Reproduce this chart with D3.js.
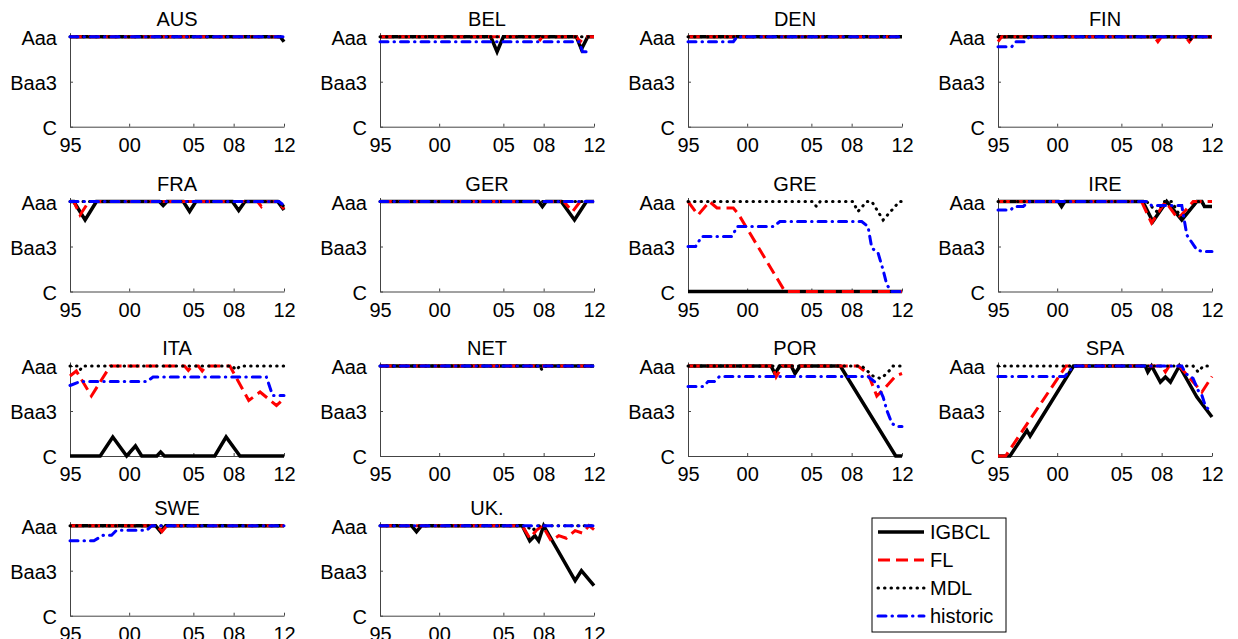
<!DOCTYPE html>
<meta charset="utf-8">
<style>
body { margin: 0; background: #fff; }
text {
  font-family: "Liberation Sans", Arial, sans-serif;
  font-size: 20px;
  fill: #000;
}
.axis line, .axis path { stroke: #444; stroke-width: 1px; fill: none; }
</style>
<script src="https://d3js.org/d3.v7.min.js"></script>
<div id="chart"></div>
<script>

// panel names, in reading order
var countries = ["AUS", "BEL", "DEN", "FIN", "FRA", "GER", "GRE", "IRE", "ITA", "NET", "POR", "SPA", "SWE", "UK."];

// rating notches: Aaa = 1 ... Baa3 = 10 ... C = 19
var yTicks = [{v: 1, label: "Aaa"}, {v: 10, label: "Baa3"}, {v: 19, label: "C"}];
var xTicks = [{v: 1995, label: "95"}, {v: 1999.7, label: "00"}, {v: 2004.8, label: "05"}, {v: 2008, label: "08"}, {v: 2012, label: "12"}];

// series, [year, notch] points
var igbcl = {
  "AUS": [[1995,1],[2011.7,1],[2012,2]],
  "BEL": [[1995,1],[2003.8,1],[2004.3,4],[2004.8,1],[2010.6,1],[2011,3.5],[2011.5,1],[2012,1]],
  "DEN": [[1995,1],[2012,1]],
  "FIN": [[1995,1],[2012,1]],
  "FRA": [[1995,1],[1995.3,1],[1996.2,4.7],[1997.1,1],[2002.1,1],[2002.4,1.8],[2002.7,1],[2004,1],[2004.5,3],[2005,1],[2007.9,1],[2008.4,2.8],[2008.9,1],[2011.5,1],[2012,2.7]],
  "GER": [[1995,1],[2007.6,1],[2007.9,2],[2008.2,1],[2009.4,1],[2010.45,4.7],[2011.4,1],[2012,1]],
  "GRE": [[1995,19],[2012,19]],
  "IRE": [[1995,1],[1999.8,1],[2000.05,2],[2000.3,1],[2006.5,1],[2007.3,5],[2008.4,1],[2009.6,4.7],[2010.8,1],[2011.2,1],[2011.4,2],[2012,2]],
  "ITA": [[1995,19],[1997.4,19],[1998.4,15.2],[1999.5,19],[2000.2,17],[2000.7,19],[2001.9,19],[2002.2,18.2],[2002.5,19],[2006.5,19],[2007.4,15.2],[2008.5,19],[2012,19]],
  "NET": [[1995,1],[2012,1]],
  "POR": [[1995,1],[2001.6,1],[2001.9,2.5],[2002.3,1],[2003.2,1],[2003.5,2.5],[2003.9,1],[2007.1,1],[2011.5,19],[2012,19]],
  "SPA": [[1995,19],[1995.95,19],[1997.3,13.9],[1997.55,15],[2001,1],[2006.7,1],[2006.9,2.2],[2007.2,1],[2007.9,4.2],[2008.3,3.2],[2008.7,4.2],[2009.4,1],[2010.8,7.2],[2012,11.2]],
  "SWE": [[1995,1],[2001.8,1],[2002.2,2.2],[2002.6,1],[2012,1]],
  "UK.": [[1995,1],[1997.5,1],[1997.9,2.2],[1998.3,1],[2006.3,1],[2006.9,4],[2007.3,3],[2007.6,4],[2008,1],[2010.5,12],[2011,10],[2012,13]]
};

var fl = {
  "AUS": [[1995,1],[2012,1]],
  "BEL": [[1995,1],[2007.3,1],[2007.6,2],[2007.9,1],[2010.6,1],[2010.9,2],[2011.2,1],[2012,1]],
  "DEN": [[1995,1],[2012,1]],
  "FIN": [[1995,2],[1995.3,1],[2007.4,1],[2007.7,2],[2008,1],[2009.9,1],[2010.2,2],[2010.5,1],[2012,1]],
  "FRA": [[1995,1],[1995.3,1],[1995.8,3.7],[1996.5,1],[2009.9,1],[2010.2,2],[2010.5,1],[2011.5,1],[2012,2.5]],
  "GER": [[1995,1],[2009.6,1],[2010.3,3],[2010.9,1],[2012,1]],
  "GRE": [[1995,1],[1995.8,3.7],[1996.7,1],[1997.3,2.3],[1998.6,2.3],[1999,3.5],[2002.7,19],[2012,19]],
  "IRE": [[1995,1],[2006.4,1],[2007.2,5.3],[2008.3,1],[2009.3,4.5],[2010.5,1],[2012,1]],
  "ITA": [[1995,3],[1995.5,2],[1996.7,7],[1998.2,1],[2004.1,1],[2004.4,1.9],[2004.7,1],[2005.2,1],[2005.5,2],[2005.8,1],[2007.7,1],[2009.2,7.9],[2010.1,6.2],[2011.4,8.9],[2012,7.5]],
  "NET": [[1995,1],[2012,1]],
  "POR": [[1995,1],[2001.7,1],[2002,3.2],[2002.5,1],[2008.5,1],[2009.3,2.5],[2010,7],[2010.6,5.5],[2011.5,3],[2012,2.5]],
  "SPA": [[1995,19],[1995.6,19],[2000.4,1],[2008,1],[2008.3,2.2],[2008.6,1],[2009.4,1],[2011.2,6.2],[2012,3.1]],
  "SWE": [[1995,1],[2001.9,1],[2002.3,2.2],[2002.7,1],[2012,1]],
  "UK.": [[1995,1],[2006.3,1],[2006.9,3.5],[2007.4,2],[2007.9,1],[2008.6,4],[2009.2,3],[2009.8,3.5],[2010.5,2],[2011.1,2.5],[2011.6,1],[2012,1.8]]
};

var mdl = {
  "AUS": [[1995,1],[2012,1]],
  "BEL": [[1995,1],[2012,1]],
  "DEN": [[1995,1],[2012,1]],
  "FIN": [[1995,1],[2009.9,1],[2010.2,1.8],[2010.5,1],[2012,1]],
  "FRA": [[1995,1],[2011.6,1],[2012,2]],
  "GER": [[1995,1],[2012,1]],
  "GRE": [[1995,1],[2004.9,1],[2005.2,2],[2005.5,1],[2008.1,1],[2008.5,3],[2009.2,1],[2009.6,1],[2010.5,4.7],[2011.8,1],[2012,1]],
  "IRE": [[1995,1],[2006.8,1],[2007.6,3],[2008.2,1],[2008.8,1],[2009.6,4.5],[2010.8,1],[2011.2,1],[2011.4,2],[2012,2]],
  "ITA": [[1995,1],[1995.6,1],[1995.8,1.8],[1996,1],[2007.9,1],[2008.2,1.8],[2008.5,1],[2012,1]],
  "NET": [[1995,1],[2007.6,1],[2007.9,1.8],[2008.2,1],[2012,1]],
  "POR": [[1995,1],[2008.8,1],[2009.7,3],[2010.3,3.5],[2010.8,2.5],[2011.3,1],[2012,1]],
  "SPA": [[1995,1],[2010.5,1],[2010.9,2.2],[2011.3,1],[2012,1]],
  "SWE": [[1995,1],[2012,1]],
  "UK.": [[1995,1],[2006.6,1],[2007.1,2],[2007.5,1],[2012,1]]
};

var historic = {
  "AUS": [[1995,1],[2012,1]],
  "BEL": [[1995,2],[2010.8,2],[2011.1,4],[2011.7,4]],
  "DEN": [[1995,2],[1998.6,2],[1998.9,1],[2012,1]],
  "FIN": [[1995,3],[1996.1,3],[1996.4,2],[1997.1,2],[1997.5,1],[2012,1]],
  "FRA": [[1995,1],[2011.6,1],[2012,1.8]],
  "GER": [[1995,1],[2012,1]],
  "GRE": [[1995,10],[1995.6,10],[1996.1,8],[1998.5,8],[1998.9,6],[2001.8,6],[2002.3,5],[2008.8,5],[2009.3,6],[2009.6,10.3],[2010.1,11.3],[2010.5,14.7],[2010.8,17.7],[2011.2,19],[2012,19]],
  "IRE": [[1995,2.7],[1996,2.7],[1996.3,2],[1997,2],[1997.5,1],[2006.8,1],[2007.2,1.8],[2009.6,1.8],[2010,7.7],[2010.8,10.7],[2011.3,11],[2012,11]],
  "ITA": [[1995,4.9],[1995.8,4.1],[2001.1,4.1],[2001.6,3.2],[2010.6,3.2],[2011.1,6.9],[2012,6.9]],
  "NET": [[1995,1],[2012,1]],
  "POR": [[1995,5.1],[1996.2,5.1],[1996.6,4.1],[1997.1,4.1],[1997.5,3.1],[2009.3,3.1],[2010,4.5],[2010.5,7.2],[2010.8,9.9],[2011.2,12.5],[2011.6,13.1],[2012,13.1]],
  "SPA": [[1995,3.1],[2000.3,3.1],[2001,1],[2009.6,1],[2009.9,2.5],[2010.5,3.5],[2010.9,5.9],[2011.2,6.9],[2011.5,9.2],[2011.9,9.9],[2012,10.2]],
  "SWE": [[1995,4],[1996.9,4],[1997.65,2.9],[1998.3,2.9],[1998.7,1.9],[2001.1,1.9],[2001.5,1],[2012,1]],
  "UK.": [[1995,1],[2012,1]]
};

var seriesNames = ["IGBCL", "FL", "MDL", "historic"];
var seriesData = [igbcl, fl, mdl, historic];

// styles for each series
var styles = [
  {color: "#000", width: 3.5, dash: null, cap: "butt"},
  {color: "#ff0000", width: 3, dash: "12,6", cap: "butt"},
  {color: "#000", width: 3, dash: "0.5,6", cap: "round"},
  {color: "#0000ff", width: 3, dash: "8,6,0.5,6", cap: "round"}
];

var width = 1238, height = 639;
var svg = d3.select("#chart").append("svg")
    .attr("width", width)
    .attr("height", height);

svg.append("rect")
    .attr("width", width)
    .attr("height", height)
    .attr("fill", "white");

// panel layout
var colLeft = [70, 380, 688, 998];
var rowBottom = [126.7, 291.5, 456, 615.7];
var panelW = 214;
var notchPx = 5;

countries.forEach(function(name, i) {
  var col = i % 4, row = Math.floor(i / 4);
  var left = colLeft[col];
  var bottom = rowBottom[row];
  var top = bottom - notchPx * 18.8;

  var x = d3.scaleLinear().domain([1995, 2012]).range([left, left + panelW]);
  var y = d3.scaleLinear().domain([19, 0.2]).range([bottom, top]);

  var g = svg.append("g");

  // axes
  var xAxis = d3.axisBottom(x)
      .tickValues(xTicks.map(function(d) { return d.v; }))
      .tickFormat(function(d, j) { return xTicks[j].label; })
      .tickSizeInner(-3).tickSizeOuter(0).tickPadding(8);
  var gx = g.append("g").attr("class", "axis")
      .attr("transform", "translate(0," + bottom + ")")
      .call(xAxis);
  gx.selectAll("text").attr("font-size", 20).attr("dy", 0).attr("y", 25);

  var yAxis = d3.axisLeft(y)
      .tickValues(yTicks.map(function(d) { return d.v; }))
      .tickFormat(function(d, j) { return yTicks[j].label; })
      .tickSizeInner(-3).tickSizeOuter(0).tickPadding(13);
  var gy = g.append("g").attr("class", "axis")
      .attr("transform", "translate(" + left + ",0)")
      .call(yAxis);
  gy.selectAll("text").attr("font-size", 20).attr("dy", 7.5);
  gx.selectAll("text").attr("font-family", null);
  gy.selectAll("text").attr("font-family", null);

  g.append("text")
      .attr("x", left + panelW / 2)
      .attr("y", y(1) - 11)
      .attr("text-anchor", "middle")
      .text(name);

  var line = d3.line()
      .x(function(d) { return x(d[0]); })
      .y(function(d) { return y(d[1]); });

  seriesData.forEach(function(s, k) {
    var st = styles[k];
    g.append("path")
        .datum(s[name])
        .attr("d", line)
        .attr("fill", "none")
        .attr("stroke", st.color)
        .attr("stroke-width", st.width)
        .attr("stroke-dasharray", st.dash)
        .attr("stroke-linecap", st.cap)
        .attr("stroke-linejoin", "miter");
  });
});

// legend
var leg = svg.append("g").attr("transform", "translate(872,518)");
leg.append("rect")
    .attr("width", 134)
    .attr("height", 114)
    .attr("fill", "white")
    .attr("stroke", "#000")
    .attr("stroke-width", 1);

seriesNames.forEach(function(n, k) {
  var st = styles[k];
  var yy = 14 + k * 28;
  leg.append("line")
      .attr("x1", 6).attr("x2", 52)
      .attr("y1", yy).attr("y2", yy)
      .attr("stroke", st.color)
      .attr("stroke-width", st.width)
      .attr("stroke-dasharray", st.dash)
      .attr("stroke-linecap", st.cap);
  leg.append("text")
      .attr("x", 58)
      .attr("y", yy + 7)
      .text(n);
});

</script>
